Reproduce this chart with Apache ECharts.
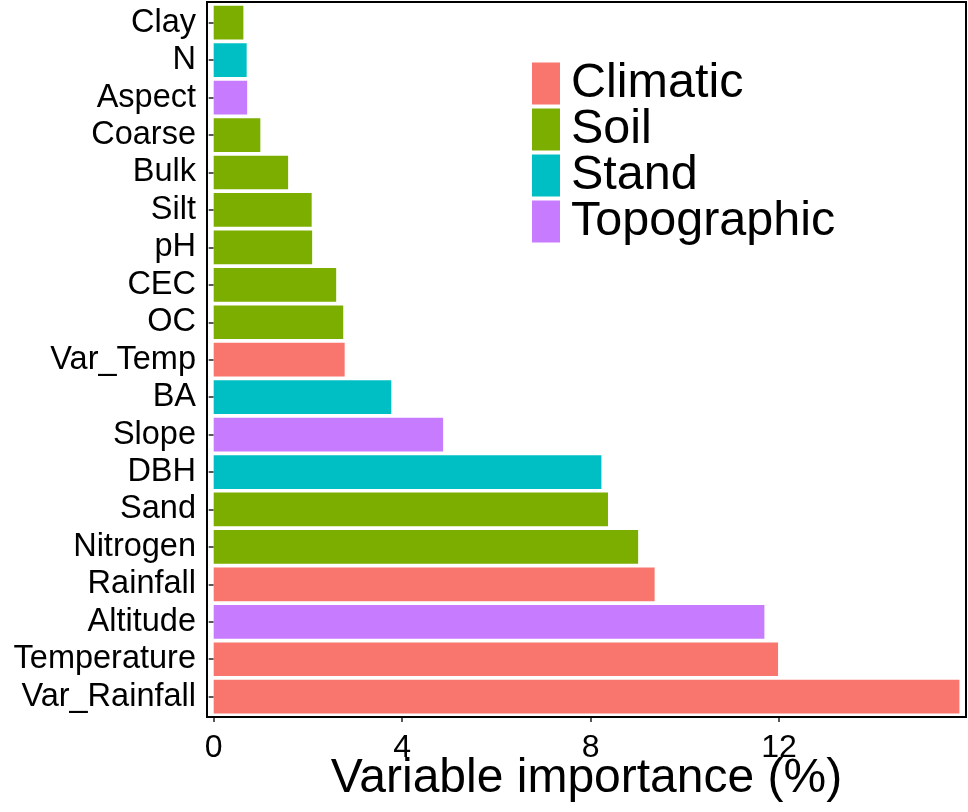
<!DOCTYPE html>
<html>
<head>
<meta charset="utf-8">
<script src="https://cdn.jsdelivr.net/npm/echarts@6/dist/echarts.min.js"></script>
<style>
html,body{margin:0;padding:0;background:#fff;}
#chart{width:968px;height:812px;}
</style>
</head>
<body>
<div id="chart"></div>
<script>
// Categories listed from bottom to top
const categories = ['Var_Rainfall','Temperature','Altitude','Rainfall','Nitrogen','Sand','DBH','Slope','BA','Var_Temp','OC','CEC','pH','Silt','Bulk','Coarse','Aspect','N','Clay'];
const values = [15.83, 11.98, 11.69, 9.36, 9.01, 8.37, 8.23, 4.87, 3.77, 2.78, 2.75, 2.60, 2.09, 2.08, 1.58, 0.99, 0.71, 0.70, 0.63];
const groups = ['Climatic','Climatic','Topographic','Climatic','Soil','Soil','Stand','Topographic','Stand','Climatic','Soil','Soil','Soil','Soil','Soil','Soil','Topographic','Stand','Soil'];
const groupNames = ['Climatic','Soil','Stand','Topographic'];
const groupColors = ['#F8766D','#7CAE00','#00BFC4','#C77CFF'];
const xTicks = [0, 4, 8, 12];
const xTitle = 'Variable importance (%)';

const FONT = '"Liberation Sans", Arial, sans-serif';
const chart = echarts.init(document.getElementById('chart'), null, {renderer: 'canvas'});

const series = groupNames.map((g, gi) => ({
  name: g,
  type: 'bar',
  stack: 'total',
  barWidth: '90%',
  itemStyle: {color: groupColors[gi]},
  data: values.map((v, i) => groups[i] === g ? v : '-')
}));

chart.setOption({
  animation: false,
  backgroundColor: '#fff',
  color: groupColors,
  grid: {left: 207, right: 2, top: 4, bottom: 96.6, containLabel: false, outerBoundsMode: 'none'},
  graphic: [{
    type: 'rect',
    z: 100,
    shape: {x: 207, y: 2, width: 759, height: 715},
    style: {fill: 'none', stroke: '#000', lineWidth: 2}
  }],
  legend: {
    orient: 'vertical',
    left: 532,
    top: 59,
    padding: 0,
    itemWidth: 28,
    itemHeight: 42,
    itemGap: -3,
    icon: 'rect',
    data: groupNames,
    textStyle: {fontFamily: FONT, fontSize: 48.5, color: '#000', padding: [0, 0, 0, 6]}
  },
  xAxis: {
    type: 'value',
    min: -0.142,
    max: 15.97,
    offset: 1.6,
    splitLine: {show: false},
    axisLine: {show: false},
    axisTick: {show: true, length: 5, customValues: xTicks, lineStyle: {color: '#222', width: 1.5}},
    axisLabel: {customValues: xTicks, fontFamily: FONT, fontSize: 32, color: '#000', margin: 15},
    name: xTitle,
    nameLocation: 'middle',
    nameGap: 38,
    nameMoveOverlap: false,
    nameTextStyle: {fontFamily: FONT, fontSize: 48, color: '#000'}
  },
  yAxis: {
    type: 'category',
    data: categories,
    axisLine: {show: false},
    axisTick: {show: true, alignWithLabel: true, length: 5, lineStyle: {color: '#222', width: 1.5}},
    axisLabel: {fontFamily: FONT, fontSize: 32.5, color: '#000', margin: 11, interval: 0},
    splitLine: {show: false}
  },
  series: series
});
</script>
</body>
</html>
